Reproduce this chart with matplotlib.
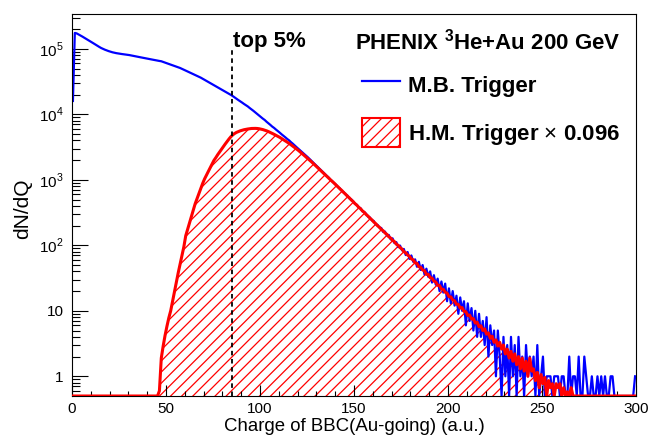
import numpy as np
import matplotlib.pyplot as plt
from matplotlib.lines import Line2D
from matplotlib.patches import Patch
from matplotlib.ticker import FixedLocator, MultipleLocator, FuncFormatter

plt.rcParams['font.family'] = ['Liberation Sans', 'DejaVu Sans']
plt.rcParams['mathtext.fontset'] = 'custom'
plt.rcParams['mathtext.rm'] = 'Liberation Sans'
plt.rcParams['mathtext.bf'] = 'Liberation Sans:bold'
plt.rcParams['hatch.linewidth'] = 0.9

# BBC charge bins, width 1 (a.u.), 0..300
edges = np.arange(0, 301, 1)
centers = 0.5 * (edges[:-1] + edges[1:])

# M.B. trigger counts per bin
mb_counts = [
    16000, 175000, 172000, 166000, 160000, 154000, 148000, 142000, 136500, 131000,
    126000, 121000, 116000, 111500, 107000, 103000, 99800, 97000, 94500, 92300,
    90300, 88600, 87200, 86000, 85000, 84100, 83300, 82600, 81900, 81300,
    80300, 79200, 78200, 77200, 76200, 75200, 74200, 73300, 72300, 71400,
    70500, 69600, 68700, 67800, 66900, 66100, 65300, 64600, 63100, 61700,
    60300, 58900, 57500, 56200, 54900, 53700, 52500, 51000, 49400, 47900,
    46500, 45100, 43700, 42400, 41100, 39900, 38700, 37500, 36300, 35000,
    33700, 32400, 31200, 30100, 29000, 27900, 26900, 25900, 24900, 24000,
    23100, 22200, 21400, 20600, 19800, 19000, 18100, 17300, 16500, 15800,
    15100, 14400, 13800, 13200, 12500, 11900, 11300, 10700, 10100, 9600,
    9100, 8600, 8200, 7700, 7300, 6900, 6500, 6200, 5850, 5550,
    5250, 4950, 4700, 4450, 4200, 4000, 3750, 3550, 3330, 3140,
    2960, 2790, 2620, 2470, 2330, 2200, 2060, 1930, 1810, 1700,
    1590, 1490, 1400, 1310, 1230, 1150, 1085, 1000, 952, 880,
    842, 772, 741, 676, 650, 598, 575, 522, 505, 470,
    430, 415, 380, 368, 330, 322, 301, 272, 266, 240,
    236, 209, 206, 186, 184, 160, 162, 141, 144, 123,
    128, 108, 112, 94, 99, 84, 88, 71, 79, 62,
    70, 56, 61, 47, 56, 42, 50, 36, 44, 33,
    40, 27, 35, 25, 31, 20, 28, 19, 26, 14,
    22, 13, 20, 12, 17, 9, 16, 10, 14, 6,
    13, 7, 11, 5, 10, 4, 9, 4, 7, 3,
    8, 2, 6, 3, 5, 1, 5, 2, 0, 4,
    1, 3, 0, 4, 1, 3, 0, 4, 1, 2,
    0, 3, 1, 2, 1, 2, 0, 3, 0, 1,
    2, 0, 1, 1, 1, 0, 1, 1, 1, 0,
    1, 1, 0, 0, 2, 0, 1, 1, 0, 2,
    0, 0, 2, 1, 0, 0, 1, 0, 0, 1,
    0, 1, 0, 1, 0, 0, 1, 1, 0, 0,
    0, 0, 0, 0, 0, 0, 0, 0, 0, 1,
]

# H.M. trigger counts per bin, already scaled by 0.096
hm_scaled = [0] * 46 + [
    0.6, 1.9, 2.9, 4.2, 5.8, 7.8, 10, 14, 20, 28,
    38, 52, 70, 95, 140, 175, 220, 270, 340, 430,
    515, 615, 735, 880, 1030, 1170, 1340, 1530, 1740, 1980,
    2180, 2420, 2660, 2940, 3230, 3520, 3850, 4200, 4550, 4850,
    5100, 5300, 5450, 5600, 5720, 5820, 5900, 5970, 6030, 6080,
    6100, 6100, 6080, 6030, 5950, 5850, 5730, 5600, 5450, 5280,
    5120, 4950, 4780, 4620, 4450, 4260, 4080, 3920, 3760, 3600,
    3430, 3270, 3100, 2950, 2800, 2650, 2500, 2360, 2230, 2100,
    1980, 1870, 1760, 1650, 1550, 1460, 1370, 1290, 1210, 1130,
    1065, 1005, 940, 888, 828, 781, 728, 688, 640, 604,
    562, 531, 494, 467, 434, 410, 381, 361, 335, 318,
    294, 279, 259, 245, 227, 215, 199, 189, 175, 167,
    154, 147, 135, 129, 119, 114, 104, 100, 92, 88,
    80, 77, 71, 68, 62, 60, 54, 53, 47, 46,
    42, 41, 36, 36, 32, 31.5, 28.4, 27.6, 24.5, 24.3,
    21.4, 21.3, 19.2, 18.6, 16.5, 16.3, 14.6, 14.2, 12.6, 12.5,
    11.0, 11.2, 9.8, 9.7, 8.5, 8.6, 7.5, 7.6, 6.5, 6.7,
    5.7, 5.9, 5.0, 5.3, 4.4, 4.6, 3.8, 4.1, 3.3, 3.6,
    2.9, 3.3, 2.6, 3.0, 2.2, 2.6, 1.9, 2.4, 1.7, 2.2,
    1.5, 2.0, 1.3, 1.9, 1.2, 1.7, 1.0, 1.9, 1.2, 1.3,
    0.86, 1.15, 0.67, 1.06, 0.77, 0.96, 0.48, 0.86, 0.67, 0.77,
    0.38, 0.77, 0.67, 0.77, 0.48, 0.67, 0.29, 0.58, 0.38, 0.67,
    0.19, 0.48,
]
hm_scaled = hm_scaled + [0] * (300 - len(hm_scaled))

top5_cut = 85.0       # charge cut for top 5 %
cut_line_top = 1.05e5

ymin, ymax = 0.5, 3.4e5

fig = plt.figure(figsize=(6.48, 4.37), dpi=100)
ax = fig.add_axes([0.1111, 0.0938, 0.8704, 0.8741])

mb = np.maximum(np.array(mb_counts, dtype=float), ymin)
hm = np.maximum(np.array(hm_scaled, dtype=float), ymin)

# hatched area under the H.M. histogram
ax.fill_between(centers, hm, ymin, facecolor='none', edgecolor='red',
                hatch='///', linewidth=0, zorder=1)
ax.plot(centers, mb, color='blue', lw=1.6, zorder=2)
ax.plot(centers, hm, color='red', lw=2.2, zorder=3)

ax.vlines(top5_cut, ymin, cut_line_top, colors='black', lw=1.3,
          linestyles=(0, (2.5, 2.0)), zorder=4)

ax.set_yscale('log')
ax.set_xlim(0, 300)
ax.set_ylim(ymin, ymax)

ax.xaxis.set_major_locator(MultipleLocator(50))
ax.xaxis.set_minor_locator(MultipleLocator(10))
ax.yaxis.set_major_locator(FixedLocator([1, 10, 1e2, 1e3, 1e4, 1e5]))
minors = [m * 10 ** d for d in range(-1, 6) for m in range(2, 10)]
ax.yaxis.set_minor_locator(FixedLocator([v for v in minors if ymin < v < ymax]))


def ylab(v, pos):
    e = int(round(np.log10(v)))
    if e == 0:
        return '1'
    if e == 1:
        return '10'
    return r'$10^{%d}$' % e


ax.yaxis.set_major_formatter(FuncFormatter(ylab))
ax.yaxis.set_minor_formatter(FuncFormatter(lambda v, p: ''))

ax.tick_params(axis='both', which='both', direction='in', width=0.8,
               labelsize=11, top=False, right=False)
ax.tick_params(axis='x', which='major', length=8, pad=4)
ax.tick_params(axis='x', which='minor', length=3.8)
ax.tick_params(axis='y', which='major', length=11.5, pad=6)
ax.tick_params(axis='y', which='minor', length=5.8)
for s in ax.spines.values():
    s.set_linewidth(0.8)

ax.set_xlabel('Charge of BBC(Au-going) (a.u.)', fontsize=13.4)
ax.xaxis.set_label_coords(0.5, -0.058)
ax.set_ylabel('dN/dQ', fontsize=15)
ax.yaxis.set_label_coords(-0.07, 0.49)

ax.text(0.286, 0.927, 'top 5%', transform=ax.transAxes, fontsize=16,
        fontweight='bold', va='center', ha='left')
ax.text(0.502, 0.927, r'PHENIX $^{\mathbf{3}}$He+Au 200 GeV',
        transform=ax.transAxes, fontsize=16, fontweight='bold',
        va='center', ha='left')

handles = [Line2D([], [], color='blue', lw=1.6),
           Patch(facecolor='none', edgecolor='red', hatch='///', lw=1.5)]
labels = ['M.B. Trigger', r'H.M. Trigger $\times$ 0.096']
ax.legend(handles, labels, loc='upper left', bbox_to_anchor=(0.514, 0.852),
          frameon=False, prop={'weight': 'bold', 'size': 16},
          handlelength=1.71, handleheight=1.6, handletextpad=0.36,
          labelspacing=0.85, borderpad=0, borderaxespad=0)

fig.savefig('out.png', dpi=100)
